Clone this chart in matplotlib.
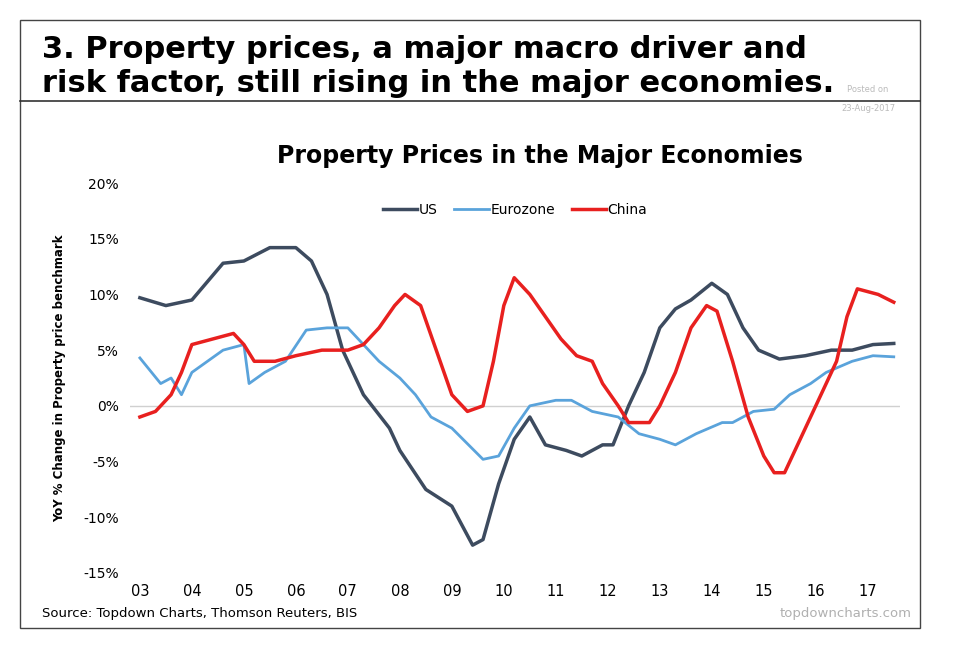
import matplotlib.pyplot as plt
from matplotlib.patches import Rectangle
from matplotlib.lines import Line2D

us_t = [2003, 2003.5, 2004, 2004.6, 2005, 2005.5, 2006, 2006.3, 2006.6, 2006.9, 2007.3, 2007.8, 2008, 2008.5, 2009,
        2009.4, 2009.6, 2009.9, 2010.2, 2010.5, 2010.8, 2011.2, 2011.5, 2011.9, 2012.1, 2012.4, 2012.7, 2013, 2013.3,
        2013.6, 2014, 2014.3, 2014.6, 2014.9, 2015.3, 2015.8, 2016.3, 2016.7, 2017.1, 2017.5]
us_v = [9.7, 9.0, 9.5, 12.8, 13, 14.2, 14.2, 13, 10, 5, 1, -2, -4, -7.5, -9, -12.5, -12, -7, -3, -1, -3.5, -4, -4.5,
        -3.5, -3.5, 0, 3, 7, 8.7, 9.5, 11, 10, 7, 5, 4.2, 4.5, 5, 5, 5.5, 5.6]

ez_t = [2003, 2003.4, 2003.6, 2003.8, 2004, 2004.3, 2004.6, 2005, 2005.1, 2005.4, 2005.8, 2006.2, 2006.6, 2007, 2007.3,
        2007.6, 2008, 2008.3, 2008.6, 2009, 2009.6, 2009.9, 2010.2, 2010.5, 2011, 2011.3, 2011.7, 2012.2, 2012.6, 2013,
        2013.3, 2013.7, 2014.2, 2014.4, 2014.8, 2015.2, 2015.5, 2015.9, 2016.2, 2016.7, 2017.1, 2017.5]
ez_v = [4.3, 2, 2.5, 1, 3, 4, 5, 5.5, 2, 3, 4, 6.8, 7, 7, 5.5, 4, 2.5, 1, -1, -2, -4.8, -4.5, -2, 0, 0.5, 0.5, -0.5,
        -1, -2.5, -3, -3.5, -2.5, -1.5, -1.5, -0.5, -0.3, 1, 2, 3, 4, 4.5, 4.4]

cn_t = [2003, 2003.3, 2003.6, 2003.8, 2004, 2004.4, 2004.8, 2005, 2005.2, 2005.6, 2006, 2006.5, 2007, 2007.3, 2007.6,
        2007.9, 2008.1, 2008.4, 2008.7, 2009, 2009.3, 2009.6, 2009.8, 2010, 2010.2, 2010.5, 2010.8, 2011.1, 2011.4,
        2011.7, 2011.9, 2012.2, 2012.4, 2012.8, 2013, 2013.3, 2013.6, 2013.9, 2014.1, 2014.4, 2014.7, 2015, 2015.2,
        2015.4, 2015.6, 2015.9, 2016.1, 2016.4, 2016.6, 2016.8, 2017.2, 2017.5]
cn_v = [-1, -0.5, 1, 3, 5.5, 6, 6.5, 5.5, 4, 4, 4.5, 5, 5, 5.5, 7, 9, 10, 9, 5, 1, -0.5, 0, 4, 9, 11.5, 10, 8, 6, 4.5,
        4, 2, 0, -1.5, -1.5, 0, 3, 7, 9, 8.5, 4, -1, -4.5, -6, -6, -4, -1, 1, 4, 8, 10.5, 10, 9.3]

years = list(range(2003, 2018))
year_labels = [f"{y % 100:02d}" for y in years]
yticks = [-15, -10, -5, 0, 5, 10, 15, 20]

fig = plt.figure(figsize=(9.6, 6.53), dpi=100)
fig.patches.append(Rectangle((20 / 960, 25 / 653), 900 / 960, 608 / 653, transform=fig.transFigure,
                             fill=False, edgecolor='#444444', lw=1))
fig.add_artist(Line2D([20 / 960, 920 / 960], [1 - 101 / 653] * 2, color='#333333', lw=1.2))
fig.text(42 / 960, 1 - 50 / 653, "3. Property prices, a major macro driver and", fontsize=22,
         fontweight='bold', va='center')
fig.text(42 / 960, 1 - 84 / 653, "risk factor, still rising in the major economies.", fontsize=22,
         fontweight='bold', va='center')
fig.text(868 / 960, 1 - 92 / 653, "Posted on", fontsize=6, color='#bbbbbb', ha='center')
fig.text(868 / 960, 1 - 111 / 653, "23-Aug-2017", fontsize=6, color='#bbbbbb', ha='center')
fig.text(540 / 960, 1 - 156 / 653, "Property Prices in the Major Economies", fontsize=17,
         fontweight='bold', ha='center', va='center')
fig.text(42 / 960, 1 - 613 / 653, "Source: Topdown Charts, Thomson Reuters, BIS", fontsize=9.5, va='center')
fig.text(912 / 960, 1 - 613 / 653, "topdowncharts.com", fontsize=9.5, color='#b0b0b0', ha='right', va='center')

ax = fig.add_axes([130 / 960, 1 - 573 / 653, 770 / 960, 390 / 653])
ax.axhline(0, color='#d0d0d0', lw=1)
ax.plot(us_t, us_v, color='#3d4b5f', lw=2.5, label='US')
ax.plot(ez_t, ez_v, color='#5aa3db', lw=2, label='Eurozone')
ax.plot(cn_t, cn_v, color='#e8201f', lw=2.5, label='China')
ax.set_xlim(2002.81, 2017.62)
ax.set_ylim(-15, 20)
ax.set_xticks(years)
ax.set_xticklabels(year_labels, fontsize=10.5)
ax.set_yticks(yticks)
ax.set_yticklabels([f"{v}%" for v in yticks], fontsize=10)
ax.tick_params(length=0, pad=8)
for s in ax.spines.values():
    s.set_visible(False)
ax.set_ylabel("YoY % Change in Property price benchmark", fontsize=8.5, fontweight='bold', labelpad=12)
ax.legend(loc='upper center', bbox_to_anchor=(0.5, 0.98), ncol=3, frameon=False, fontsize=10,
          handlelength=2.5, columnspacing=1.2, handletextpad=0.1)

fig.savefig("out.png", dpi=100)
